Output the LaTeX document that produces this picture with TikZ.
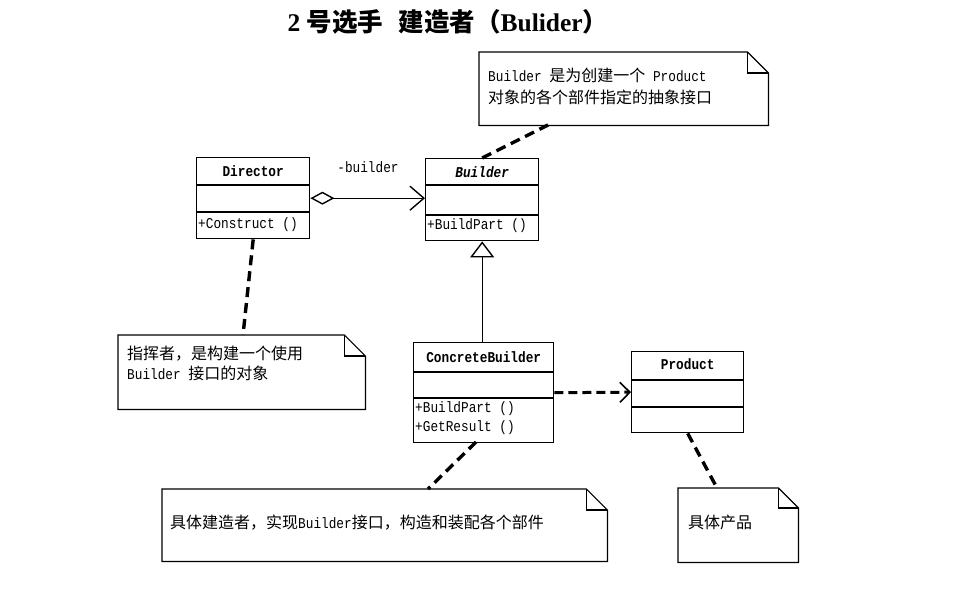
\documentclass[tikz,border=0pt]{standalone}
\usepackage{fontspec}
\setmainfont{Liberation Serif}
\setmonofont{Liberation Mono}[FakeStretch=0.85]
\newfontfamily\cjk{Noto Sans CJK SC}
\usetikzlibrary{arrows.meta,calc}
\newcommand\zh[1]{{\cjk\fontsize{16}{20}\selectfont #1}}
\tikzset{
  cls/.style={draw, line width=1.4pt, anchor=north west, inner sep=0pt},
  clsline/.style={line width=1.4pt},
  clsname/.style={inner sep=0pt, font=\ttfamily\bfseries\fontsize{15}{17}\selectfont},
  member/.style={anchor=west, inner sep=0pt, font=\ttfamily\fontsize{15}{17}\selectfont},
  notebox/.style={anchor=north west, inner sep=0pt},
  noteline/.style={line width=1.2pt, line join=miter},
  notetxt/.style={anchor=base west, inner sep=0pt, font=\ttfamily\fontsize{15}{17}\selectfont},
  noteconn/.style={line width=3.4pt, dash pattern=on 10pt off 6pt},
  agg/.style={line width=1.4pt, {Diamond[open,length=24pt,width=13pt,line width=1.4pt]}-{Straight Barb[length=14pt,width=24pt,line width=1.4pt]}},
  gen/.style={line width=1.4pt, -{Triangle[open,length=16pt,width=24pt,line width=1.4pt,fill=white]}},
  depline/.style={line width=3pt, dash pattern=on 9pt off 5pt, -{Straight Barb[length=10pt,width=20pt,line width=1.6pt]}},
  lbl/.style={inner sep=0pt, font=\ttfamily\fontsize{15}{17}\selectfont},
}
\newcommand\foldnote[2]{%
  \draw[noteline] (#1.north west) -- ($(#1.north east)+(-#2,0)$) -- ($(#1.north east)+(0,#2)$)
     -- (#1.south east) -- (#1.south west) -- cycle;
  \draw[noteline] ($(#1.north east)+(-#2,0)$) -- ($(#1.north east)+(-#2,#2)$) -- ($(#1.north east)+(0,#2)$);}
\begin{document}
\begin{tikzpicture}[x=1pt,y=-1pt]
\fill[white] (0,0) rectangle (972,613);
\useasboundingbox (0,0) rectangle (972,613);

% title
\node[inner sep=0pt, font=\bfseries\fontsize{25.5}{28}\selectfont] (title) at (448,22)
  {2 {\cjk 号选手\hspace{0.6em}建造者（}Bulider{\cjk ）}};

% Director
\node[cls, minimum width=113pt, minimum height=81pt] (dir) at (196,157) {};
\draw[clsline] ($(dir.north west)+(0,28)$) -- ($(dir.north east)+(0,28)$);
\draw[clsline] ($(dir.north west)+(0,55)$) -- ($(dir.north east)+(0,55)$);
\node[clsname] (dirname) at ($(dir.north)+(0,14)$) {Director};
\node[member] (dirop) at ($(dir.north west)+(2,68)$) {+Construct ()};

% Builder
\node[cls, minimum width=113pt, minimum height=82pt] (bld) at (425,158) {};
\draw[clsline] ($(bld.north west)+(0,27)$) -- ($(bld.north east)+(0,27)$);
\draw[clsline] ($(bld.north west)+(0,57)$) -- ($(bld.north east)+(0,57)$);
\node[clsname, font=\ttfamily\bfseries\itshape\fontsize{15}{17}\selectfont] (bldname) at ($(bld.north)+(0,14)$) {Builder};
\node[member] (bldop) at ($(bld.north west)+(2,68)$) {+BuildPart ()};

% ConcreteBuilder
\node[cls, minimum width=140pt, minimum height=100pt] (cb) at (413,342) {};
\draw[clsline] ($(cb.north west)+(0,30)$) -- ($(cb.north east)+(0,30)$);
\draw[clsline] ($(cb.north west)+(0,56)$) -- ($(cb.north east)+(0,56)$);
\node[clsname] (cbname) at ($(cb.north)+(0,15)$) {ConcreteBuilder};
\node[member] (cbop1) at ($(cb.north west)+(2,67)$) {+BuildPart ()};
\node[member] (cbop2) at ($(cb.north west)+(2,86)$) {+GetResult ()};

% Product
\node[cls, minimum width=112pt, minimum height=81pt] (prod) at (631,351) {};
\draw[clsline] ($(prod.north west)+(0,29)$) -- ($(prod.north east)+(0,29)$);
\draw[clsline] ($(prod.north west)+(0,56)$) -- ($(prod.north east)+(0,56)$);
\node[clsname] (prodname) at ($(prod.north)+(0,13)$) {Product};

% relations
\draw[agg] (dir.east) -- (dir.east -| bld.west);
\node[lbl] (role) at (368,167) {-builder};
\draw[gen] (cb.north -| bld.south) -- (bld.south);
\draw[depline] (cb.east) -- (prod.west);

% notes
\node[notebox, minimum width=289pt, minimum height=73pt] (n1) at (479,52) {};
\foldnote{n1}{21}
\node[notetxt] (n1a) at (488,81) {Builder \zh{是为创建一个} Product};
\node[notetxt] (n1b) at (488,103) {\zh{对象的各个部件指定的抽象接口}};

\node[notebox, minimum width=247pt, minimum height=74pt] (n2) at (118,335) {};
\foldnote{n2}{21}
\node[notetxt] (n2a) at (127,359) {\zh{指挥者，是构建一个使用}};
\node[notetxt] (n2b) at (127,379) {Builder \zh{接口的对象}};

\node[notebox, minimum width=445pt, minimum height=72pt] (n3) at (162,489) {};
\foldnote{n3}{21}
\node[notetxt] (n3a) at (170,528) {\zh{具体建造者，实现}Builder\zh{接口，构造和装配各个部件}};

\node[notebox, minimum width=120pt, minimum height=74pt] (n4) at (678,488) {};
\foldnote{n4}{20}
\node[notetxt] (n4a) at (688,528) {\zh{具体产品}};

% note connectors
\coordinate (c1) at (548,125);
\draw[noteconn] (bld.north) -- (c1);
\coordinate (c2) at (243,335);
\draw[noteconn] (dir.south) -- (c2);
\coordinate (c3a) at (476,442);
\coordinate (c3) at (428,489);
\draw[noteconn] (c3a) -- (c3);
\coordinate (c4) at (717,488);
\draw[noteconn] (prod.south) -- (c4);
\end{tikzpicture}
\end{document}
